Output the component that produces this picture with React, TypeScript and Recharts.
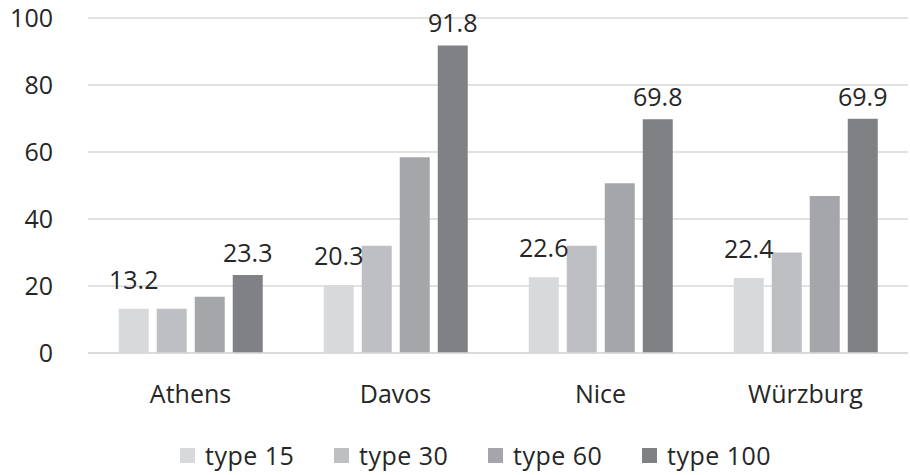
import React from 'react';
import {
    BarChart,
    Bar,
    XAxis,
    YAxis,
    CartesianGrid,
    Legend,
    LabelList,
} from 'recharts';

const cities = ['Athens', 'Davos', 'Nice', 'Würzburg'];
const type15 = [13.2, 20.3, 22.6, 22.4];
const type30 = [13.2, 32.0, 32.0, 30.0];
const type60 = [16.8, 58.4, 50.7, 46.9];
const type100 = [23.3, 91.8, 69.8, 69.9];
const yTicks = [0, 20, 40, 60, 80, 100];

const seriesNames = ['type 15', 'type 30', 'type 60', 'type 100'];
const seriesColors = ['#d8d9db', '#bebfc2', '#a5a6a9', '#808185'];

const data = cities.map((city, i) => ({
    city,
    t15: type15[i],
    t30: type30[i],
    t60: type60[i],
    t100: type100[i],
}));

const font = '"Open Sans", sans-serif';
const textColor = '#262626';

// legend drawn by hand so the order and spacing stay fixed
const LegendRow = () => (
    <div style={{ height: 64, position: 'relative', fontFamily: font, fontSize: 25, color: textColor }}>
        <div style={{ position: 'absolute', left: 180, top: 30, display: 'flex' }}>
            {seriesNames.map((name, i) => (
                <div key={name} style={{ width: 154, display: 'flex', alignItems: 'center', height: 28 }}>
                    <span style={{ width: 15, height: 15, background: seriesColors[i], marginRight: 10, display: 'inline-block' }} />
                    <span style={{ whiteSpace: 'nowrap', letterSpacing: 0.5 }}>{name}</span>
                </div>
            ))}
        </div>
    </div>
);

const App: React.FC = () => {
    return (
        <div style={{ position: 'absolute', left: 0, top: 0, fontFamily: font }}>
            <BarChart
                width={910}
                height={475}
                data={data}
                margin={{ top: 18, right: 2, bottom: 0, left: 0 }}
                barCategoryGap="15%"
                barGap={8}
            >
                <CartesianGrid vertical={false} stroke="#d9d9d9" strokeWidth={1.5} />
                <XAxis
                    dataKey="city"
                    axisLine={{ stroke: '#d9d9d9', strokeWidth: 1.5 }}
                    tickLine={false}
                    tick={{ fill: textColor, fontSize: 25, fontFamily: font }}
                    tickMargin={26}
                    height={58}
                />
                <YAxis
                    domain={[0, 100]}
                    ticks={yTicks}
                    axisLine={false}
                    tickLine={false}
                    tick={{ fill: textColor, fontSize: 25, fontFamily: font }}
                    tickMargin={29}
                    width={88}
                />
                <Legend
                    verticalAlign="bottom"
                    content={<LegendRow />}
                    wrapperStyle={{ left: 0, width: 910 }}
                />
                <Bar dataKey="t15" name="type 15" fill={seriesColors[0]} isAnimationActive={false}>
                    <LabelList dataKey="t15" position="top" offset={20} fill={textColor} fontSize={25} fontFamily={font} />
                </Bar>
                <Bar dataKey="t30" name="type 30" fill={seriesColors[1]} isAnimationActive={false} />
                <Bar dataKey="t60" name="type 60" fill={seriesColors[2]} isAnimationActive={false} />
                <Bar dataKey="t100" name="type 100" fill={seriesColors[3]} isAnimationActive={false}>
                    <LabelList dataKey="t100" position="top" offset={13} fill={textColor} fontSize={25} fontFamily={font} />
                </Bar>
            </BarChart>
        </div>
    );
};

export default App;
